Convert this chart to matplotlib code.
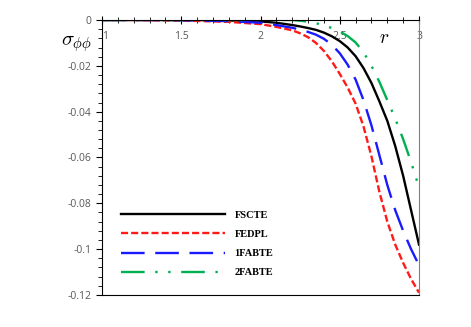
import numpy as np
import matplotlib
matplotlib.use('Agg')
import matplotlib.pyplot as plt
from matplotlib.ticker import MultipleLocator

# radius values
r = [1.0, 1.2, 1.4, 1.6, 1.8, 2.0, 2.1, 2.2, 2.25, 2.3, 2.35, 2.4, 2.45, 2.5, 2.55,
     2.6, 2.65, 2.7, 2.75, 2.8, 2.85, 2.9, 2.95, 3.0]

fscte = [0, 0, 0, 0, -0.0002, -0.0006, -0.0012, -0.0022, -0.0028, -0.0035, -0.0043,
         -0.0055, -0.0071, -0.0092, -0.012, -0.0158, -0.021, -0.0275, -0.0355, -0.044,
         -0.055, -0.068, -0.083, -0.098]
fedpl = [0, 0, -0.0002, -0.0004, -0.0008, -0.0018, -0.003, -0.0045, -0.0058, -0.0075,
         -0.0100, -0.0135, -0.018, -0.0235, -0.0295, -0.0365, -0.0465, -0.0595, -0.075,
         -0.088, -0.098, -0.106, -0.113, -0.119]
fabte1 = [0, 0, 0, -0.0002, -0.0005, -0.0012, -0.0022, -0.0034, -0.0042, -0.0052,
          -0.0064, -0.0082, -0.0108, -0.0145, -0.0195, -0.026, -0.035, -0.046, -0.059,
          -0.072, -0.083, -0.092, -0.100, -0.107]
fabte2 = [0, 0, 0, 0, 0, 0, 0, 0, -0.0003, -0.0007, -0.0014, -0.0023, -0.0035,
          -0.005, -0.007, -0.0098, -0.014, -0.020, -0.027, -0.035, -0.043, -0.052,
          -0.062, -0.073]

labels = ['FSCTE', 'FEDPL', '1FABTE', '2FABTE']

fig = plt.figure(figsize=(4.71, 3.27), dpi=100)
ax = fig.add_axes([0.2166, 0.0979, 0.673, 0.8409])

ax.plot(r, fscte, color='black', lw=1.7, label=labels[0])
ax.plot(r, fedpl, color='#ff1a1a', lw=1.7, dashes=(3, 1.3), label=labels[1])
ax.plot(r, fabte1, color='#1a1aff', lw=1.7, dashes=(10, 4.5), label=labels[2])
ax.plot(r, fabte2, color='#00b050', lw=1.7, dashes=(10, 4.5, 1, 4.5, 1, 4.5),
        label=labels[3])

ax.set_xlim(1, 3)
ax.set_ylim(-0.12, 0)
ax.xaxis.set_minor_locator(MultipleLocator(0.1))
ax.yaxis.set_minor_locator(MultipleLocator(0.004))

ax.tick_params(axis='x', which='both', top=True, bottom=False, labeltop=True,
               labelbottom=False, direction='inout')
ax.tick_params(axis='x', which='major', length=6, pad=-19)
ax.tick_params(axis='x', which='minor', length=4)
ax.tick_params(axis='y', which='major', length=4, direction='out')
ax.tick_params(axis='y', which='minor', length=3, direction='out')
ax.tick_params(labelsize=7.5, labelcolor='#595959')
ax.set_xticks([1, 1.5, 2, 2.5, 3])
ax.set_xticklabels(['1', '1.5', '2', '2.5', '3'])
ax.set_yticks([0, -0.02, -0.04, -0.06, -0.08, -0.1, -0.12])
ax.set_yticklabels(['0', '-0.02', '-0.04', '-0.06', '-0.08', '-0.1', '-0.12'])
for t in ax.get_xticklabels() + ax.get_yticklabels():
    t.set_family('Open Sans')
ax.get_xticklabels()[0].set_ha('left')

ax.spines['right'].set_color('#808080')
for s in ['left', 'bottom', 'top']:
    ax.spines[s].set_color('black')

fig.text(0.163, 0.868, r'$\sigma_{\phi\phi}$', fontsize=15, ha='center', va='center',
         math_fontfamily='cm')
fig.text(0.815, 0.885, r'$r$', fontsize=14, ha='center', va='center',
         math_fontfamily='cm')

leg = ax.legend(loc='lower left', bbox_to_anchor=(0.03, 0.03), frameon=False,
                handlelength=10.0, handletextpad=0.9, labelspacing=0.95,
                prop={'family': 'Liberation Serif', 'weight': 'bold', 'size': 7.5})

fig.savefig('out.png', dpi=100)
